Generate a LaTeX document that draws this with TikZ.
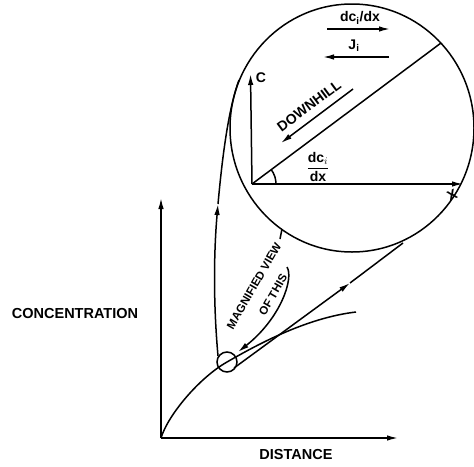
\documentclass[tikz,border=0pt]{standalone}
\usepackage{fontspec}
\setmainfont{Liberation Sans}
\usetikzlibrary{arrows.meta,calc}
\begin{document}
\begin{tikzpicture}[x=1pt,y=-1pt, line width=1.5pt,
  tip/.style={-{Latex[length=11pt,width=5.5pt]}},
  lbl/.style={font=\bfseries\fontsize{14.5}{14.5}\selectfont, inner sep=0pt},
  mid/.style={font=\bfseries\fontsize{14}{14}\selectfont, inner sep=0pt},
  sml/.style={font=\bfseries\fontsize{11.5}{11.5}\selectfont, inner sep=0pt}]
\useasboundingbox (0,0) rectangle (474,466);
% outer axes
\coordinate (O) at (161,438);
\coordinate (Ytop) at (161,198);
\coordinate (Xend) at (398,438);
\draw[tip] (O) -- (Ytop);
\draw[tip] (O) -- (Xend);
\node[lbl] (conc) at (75,314) {CONCENTRATION};
\node[lbl] (dist) at (296,455) {DISTANCE};
% concentration curve and small circle
\coordinate (S) at (227,362);
\coordinate (Cend) at (356,312);
\draw (O) .. controls (168,415) and (199,378) .. (S) .. controls (255,346) and (305,318) .. (Cend);
\draw (S) circle[radius=10];
% tangent line
\coordinate (T0) at (234,368);
\coordinate (Tm) at (350,283);
\coordinate (T1) at (403,243);
\draw[tip] (T0) -- (Tm);
\draw (Tm) -- (T1);
% big magnified circle
\coordinate (B) at (352,128);
\draw (B) ellipse[x radius=122, y radius=124];
% magnification line from small circle to big circle
\coordinate (M0) at (218,356);
\coordinate (Mm) at (218,204);
\coordinate (M1) at (239,80);
\draw[tip] (M0) .. controls (213,300) and (214,250) .. (Mm);
\draw (Mm) .. controls (222,160) and (228,110) .. (M1);
% pointer "magnified view of this"
\coordinate (P0) at (282,229);
\coordinate (P1) at (280,239);
\coordinate (P2) at (287,267);
\coordinate (P3) at (238,352);
\draw (P0) -- (P1);
\node[sml, rotate=60] (mag) at (254,286) {MAGNIFIED VIEW};
\node[sml, rotate=60] (oft) at (273,295) {OF THIS};
\draw[tip] (P2) .. controls (294,278) and (281,318) .. (P3);
% inner axes
\coordinate (o) at (252,184);
\coordinate (ctop) at (250.5,74);
\coordinate (xend) at (463,184);
\coordinate (diag) at (441,43);
\draw[tip] (o) -- (ctop);
\draw[tip] (o) -- (xend);
\draw (o) -- (diag);
\node[mid] (cl) at (261,78) {C};
\node[mid, rotate=25] (xl) at (452,195) {X};
\draw ($(o)+(24,0)$) arc[start angle=0, end angle=-36.7, radius=24];
\node[mid] (frac) at (318,167) {$\displaystyle\frac{\mbox{\bfseries dc}_i}{\mbox{\bfseries dx}}$};
% downhill
\node[mid, rotate=36.7] (down) at (309,106) {DOWNHILL};
\coordinate (D0) at (353,89);
\coordinate (D1) at (281,143);
\draw[tip] (D0) -- (D1);
% top labels
\node[mid] (dcdx) at (360,18) {dc\textsubscript{i}/dx};
\coordinate (A0) at (327,29);
\coordinate (A1) at (390,29);
\draw[tip] (A0) -- (A1);
\node[mid] (ji) at (354,46) {J\textsubscript{i}};
\coordinate (J0) at (389,57);
\coordinate (J1) at (323,57);
\draw[tip] (J0) -- (J1);
\end{tikzpicture}
\end{document}
